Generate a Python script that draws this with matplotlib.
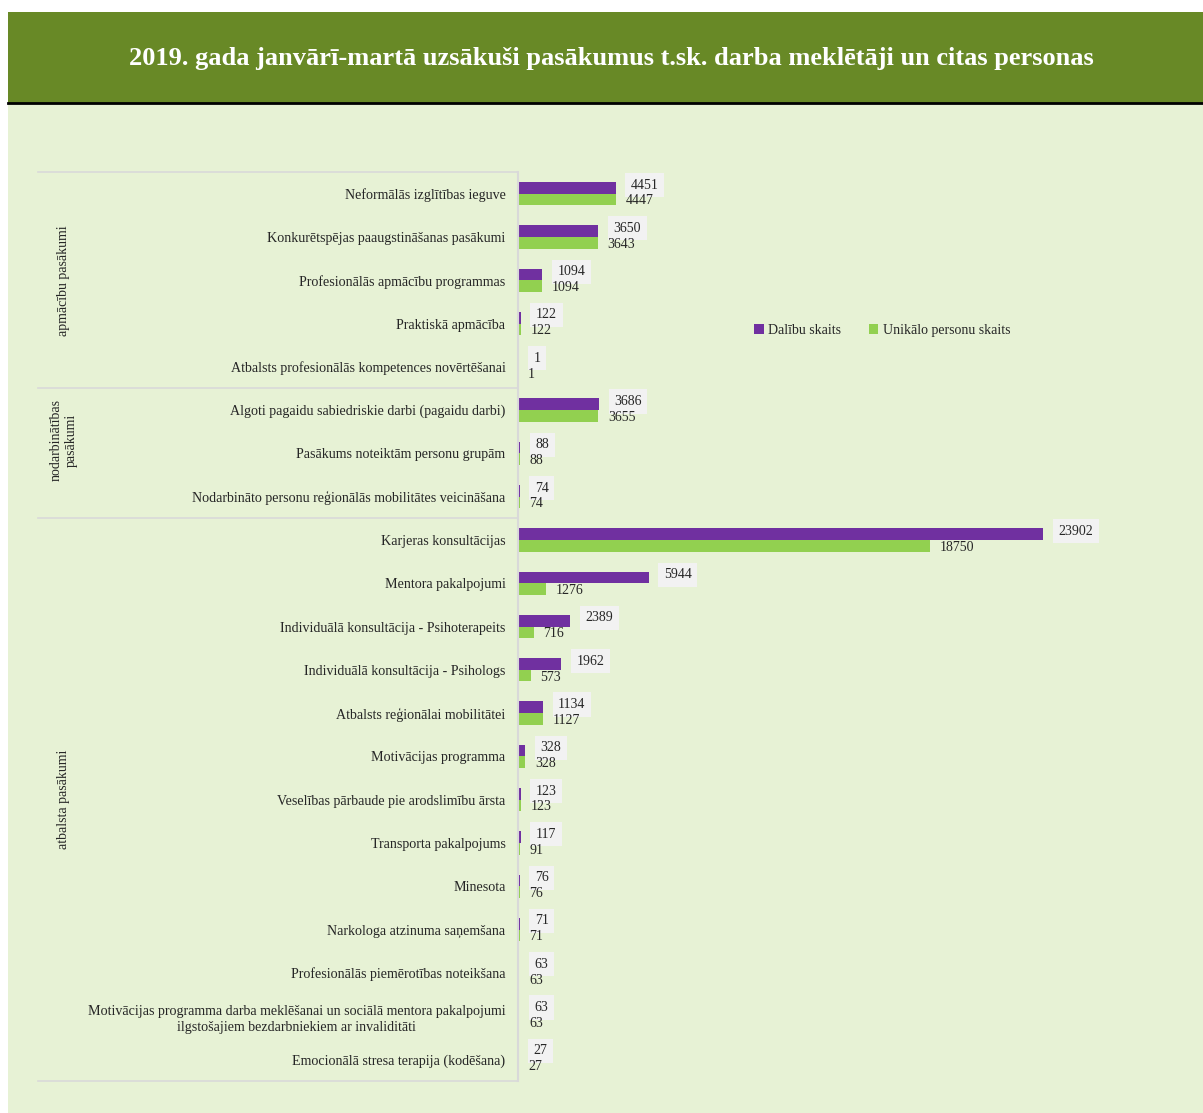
import numpy as np
import matplotlib.pyplot as plt
from matplotlib.patches import Rectangle
from matplotlib.lines import Line2D
import matplotlib.transforms as mtransforms

plt.rcParams['font.family'] = ['Liberation Serif', 'DejaVu Serif']

title = '2019. gada janvārī-martā uzsākuši pasākumus t.sk. darba meklētāji un citas personas'

categories = [
    'Neformālās izglītības ieguve',
    'Konkurētspējas paaugstināšanas pasākumi',
    'Profesionālās apmācību programmas',
    'Praktiskā apmācība',
    'Atbalsts profesionālās kompetences novērtēšanai',
    'Algoti pagaidu sabiedriskie darbi (pagaidu darbi)',
    'Pasākums noteiktām personu grupām',
    'Nodarbināto personu reģionālās mobilitātes veicināšana',
    'Karjeras konsultācijas',
    'Mentora pakalpojumi',
    'Individuālā konsultācija - Psihoterapeits',
    'Individuālā konsultācija - Psihologs',
    'Atbalsts reģionālai mobilitātei',
    'Motivācijas programma',
    'Veselības pārbaude pie arodslimību ārsta',
    'Transporta pakalpojums',
    'Minesota',
    'Narkologa atzinuma saņemšana',
    'Profesionālās piemērotības noteikšana',
    'Motivācijas programma darba meklēšanai un sociālā mentora pakalpojumi\nilgstošajiem bezdarbniekiem ar invaliditāti',
    'Emocionālā stresa terapija (kodēšana)',
]
dalibu = [4451, 3650, 1094, 122, 1, 3686, 88, 74, 23902, 5944, 2389, 1962,
          1134, 328, 123, 117, 76, 71, 63, 63, 27]
unikalo = [4447, 3643, 1094, 122, 1, 3655, 88, 74, 18750, 1276, 716, 573,
           1127, 328, 123, 91, 76, 71, 63, 63, 27]

groups = ['apmācību pasākumi', 'nodarbinātības\npasākumi', 'atbalsta pasākumi']
group_sizes = [5, 3, 13]

purple = '#7030A0'
green = '#92D050'
bg = '#E7F2D5'
band = '#688926'
txt = '#262626'

W, H = 1203, 1113
fig = plt.figure(figsize=(W / 100, H / 100), dpi=100)
fig.patch.set_facecolor('white')

# background and title band
fig.add_artist(Rectangle((8 / W, 0), 1 - 8 / W, 1 - 103 / H, transform=fig.transFigure,
                         facecolor=bg, edgecolor='none', zorder=0))
fig.add_artist(Rectangle((8 / W, 1 - 103 / H), 1 - 8 / W, 91 / H, transform=fig.transFigure,
                         facecolor=band, edgecolor='none', zorder=0))
fig.add_artist(Line2D([8 / W, 1], [1 - 103 / H, 1 - 103 / H], transform=fig.transFigure,
                      color='black', lw=2, zorder=1))
fig.text(611 / W, 1 - 59 / H, title, color='white', fontsize=19, fontweight='bold',
         ha='center', va='center')

n = len(categories)
top, bottom = 172, 1081
ax = fig.add_axes([518 / W, 1 - bottom / H, (1177 - 518) / W, (bottom - top) / H])
ax.set_facecolor('none')

y = np.arange(n)
h = 0.27
ax.barh(y - h / 2, dalibu, height=h, color=purple, label='Dalību skaits')
ax.barh(y + h / 2, unikalo, height=h, color=green, label='Unikālo personu skaits')

ax.set_xlim(0, 30000)
ax.set_ylim(n - 0.5, -0.5)
ax.set_xticks([])
ax.set_yticks(y)
ax.set_yticklabels(categories, fontsize=10.1, color=txt, multialignment='center',
                   linespacing=1.35)
ax.tick_params(axis='y', length=0, pad=9)
for s in ['top', 'right', 'bottom']:
    ax.spines[s].set_visible(False)
ax.spines['left'].set_color('#D9D9D9')
ax.spines['left'].set_linewidth(1.5)

for i in range(n):
    ax.annotate(str(dalibu[i]), (dalibu[i], y[i] - h / 2), xytext=(11, 2),
                textcoords='offset points', fontsize=10, va='center', ha='left',
                color=txt,
                bbox=dict(boxstyle='square,pad=0.4', facecolor='#F2F2F2', edgecolor='none'))
    ax.annotate(str(unikalo[i]), (unikalo[i], y[i] + h / 2), xytext=(7, -1),
                textcoords='offset points', fontsize=10, va='center', ha='left',
                color=txt)

# group separators and labels
trans = mtransforms.blended_transform_factory(ax.transAxes, ax.transData)
x_left = (38 - 518) / (1177 - 518)
bounds = np.concatenate([[0], np.cumsum(group_sizes)]) - 0.5
for b in bounds:
    ax.plot([x_left, 0], [b, b], color='#D9D9D9', lw=1.2, transform=trans, clip_on=False)
x_grp = (64 - 518) / (1177 - 518)
for g, lo, hi in zip(groups, bounds[:-1], bounds[1:]):
    yc = (lo + hi) / 2
    if '\n' in g:
        yc -= 0.3
    ax.text(x_grp, yc, g, rotation=90, ha='center', va='center',
            fontsize=10, color=txt, transform=trans, multialignment='center')

leg = fig.legend(loc='center', bbox_to_anchor=(882 / W, 1 - 330 / H), ncol=2, frameon=False,
                 fontsize=10, handlelength=0.7, handleheight=0.7, handletextpad=0.3,
                 columnspacing=2.0)
for t in leg.get_texts():
    t.set_color(txt)

fig.savefig('out.png', dpi=100, facecolor=fig.get_facecolor())
